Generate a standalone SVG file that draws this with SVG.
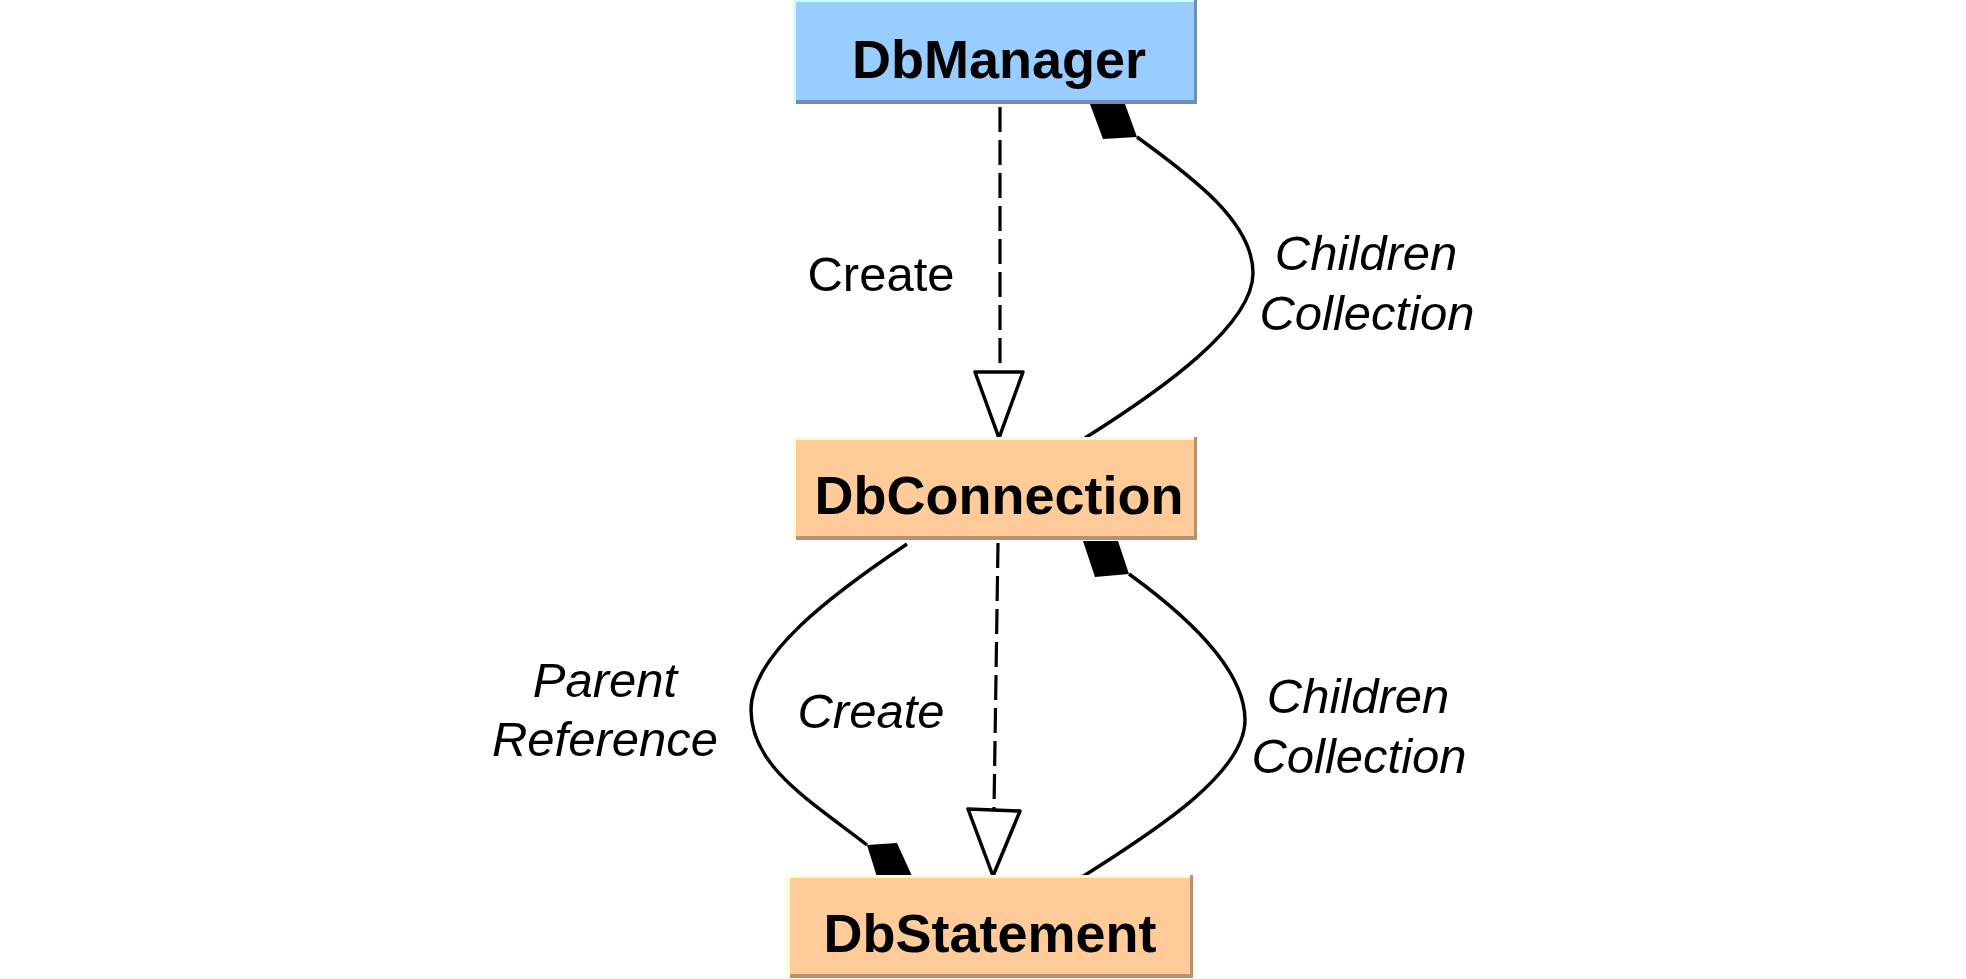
<svg xmlns="http://www.w3.org/2000/svg" width="1966" height="979" viewBox="0 0 1966 979">
<style>
.lbl{font-family:"Liberation Sans",Arial,sans-serif;font-size:49px;fill:#000;text-anchor:middle}
.it{font-style:italic}
.title{font-family:"Liberation Sans",Arial,sans-serif;font-size:54px;font-weight:bold;fill:#000;text-anchor:middle}
.edge{fill:none;stroke:#000;stroke-width:3.4}
.dash{fill:none;stroke:#000;stroke-width:3.2;stroke-dasharray:25 8}
.tri{fill:#fff;stroke:#000;stroke-width:3.5;stroke-linejoin:round}
.dia{fill:#000;stroke:none}
.blue{fill:#99ccff}
.orange{fill:#ffcc99}
</style>
<rect width="1966" height="979" fill="#fff"/>
<g id="connectors">
  <path class="dash" d="M1000,107 L1000,372"/>
  <polygon class="tri" points="975,372 1023,372 999,438"/>
  <path class="edge" d="M1137,137 C1195,179 1253,223 1253,273 C1253,325 1163,389 1085,438"/>
  <polygon class="dia" points="1090,104 1125,104 1137,137 1103,139"/>
  <path class="edge" d="M907,544 C831,595 751,655 751,710 C751,767 812,802 867,845"/>
  <polygon class="dia" points="867,845 897,843 912,876 877,877"/>
  <path class="dash" d="M998,543 L994,809"/>
  <polygon class="tri" points="968,809 1020,811 993,876"/>
  <path class="edge" d="M1129,574 C1187,616 1245,670 1245,720 C1245,772 1160,828 1082,877"/>
  <polygon class="dia" points="1083,541 1118,541 1129,574 1095,577"/>
  <text class="lbl" x="881" y="291">Create</text>
  <text class="lbl it" x="1366" y="270">Children</text>
  <text class="lbl it" x="1367" y="330">Collection</text>
  <text class="lbl it" x="605" y="697">Parent</text>
  <text class="lbl it" x="605" y="756">Reference</text>
  <text class="lbl it" x="871" y="728">Create</text>
  <text class="lbl it" x="1358" y="713">Children</text>
  <text class="lbl it" x="1359" y="773">Collection</text>
</g>
<g id="DbManager">
  <rect class="blue" x="793" y="-2" width="404" height="106"/>
  <rect x="793" y="-2" width="3" height="106" fill="#ccffff"/>
  <rect x="793" y="0" width="404" height="2" fill="#ccffff"/>
  <rect x="1194" y="-2" width="3" height="106" fill="#6f8fb8"/>
  <rect x="796" y="100" width="401" height="4" fill="#6f8fb8"/>
  <text class="title" x="999" y="78">DbManager</text>
</g>
<g id="DbConnection">
  <rect class="orange" x="793" y="437" width="404" height="103"/>
  <rect x="793" y="437" width="404" height="3" fill="#ffffcc"/>
  <rect x="793" y="437" width="3" height="103" fill="#ffffcc"/>
  <rect x="1194" y="437" width="3" height="103" fill="#b8926e"/>
  <rect x="796" y="536" width="401" height="4" fill="#b8926e"/>
  <text class="title" x="999" y="514">DbConnection</text>
</g>
<g id="DbStatement">
  <rect class="orange" x="787" y="875" width="406" height="103"/>
  <rect x="787" y="875" width="406" height="3" fill="#ffffcc"/>
  <rect x="787" y="875" width="3" height="103" fill="#ffffcc"/>
  <rect x="1190" y="875" width="3" height="103" fill="#b8926e"/>
  <rect x="790" y="974" width="403" height="4" fill="#b8926e"/>
  <text class="title" x="990" y="952">DbStatement</text>
</g>
</svg>
